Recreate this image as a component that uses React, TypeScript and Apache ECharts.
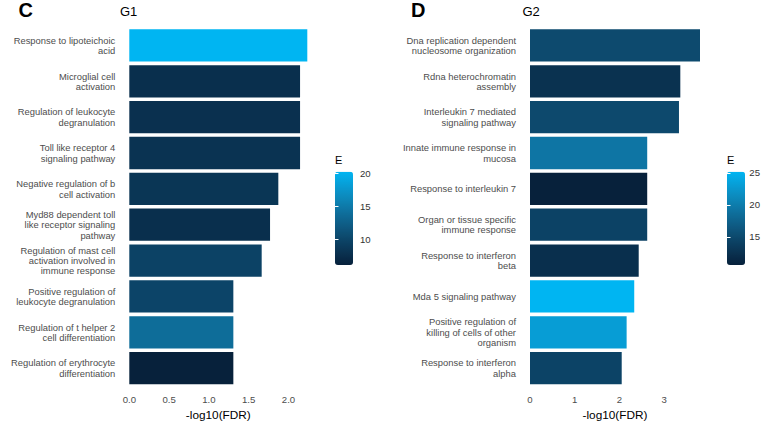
import React, { useEffect, useRef } from 'react';
import * as echarts from 'echarts';

// ---------- data ----------
const g1Terms = [
  'Response to lipoteichoic\nacid',
  'Microglial cell\nactivation',
  'Regulation of leukocyte\ndegranulation',
  'Toll like receptor 4\nsignaling pathway',
  'Negative regulation of b\ncell activation',
  'Myd88 dependent toll\nlike receptor signaling\npathway',
  'Regulation of mast cell\nactivation involved in\nimmune response',
  'Positive regulation of\nleukocyte degranulation',
  'Regulation of t helper 2\ncell differentiation',
  'Regulation of erythrocyte\ndifferentiation',
];
const g1Fdr = [2.236, 2.145, 2.145, 2.145, 1.872, 1.768, 1.663, 1.307, 1.307, 1.307];
const g1E = [20.2, 7.65, 7.8, 8.1, 8.35, 7.65, 9.7, 9.9, 13.8, 6.1];

const g2Terms = [
  'Dna replication dependent\nnucleosome organization',
  'Rdna heterochromatin\nassembly',
  'Interleukin 7 mediated\nsignaling pathway',
  'Innate immune response in\nmucosa',
  'Response to interleukin 7',
  'Organ or tissue specific\nimmune response',
  'Response to interferon\nbeta',
  'Mda 5 signaling pathway',
  'Positive regulation of\nkilling of cells of other\norganism',
  'Response to interferon\nalpha',
];
const g2Fdr = [3.8, 3.36, 3.33, 2.62, 2.62, 2.62, 2.43, 2.33, 2.16, 2.05];
const g2E = [15.1, 12.5, 15.0, 19.4, 10.6, 14.3, 12.2, 25.2, 23.1, 14.4];

const g1ERange = [6.1, 20.2];
const g2ERange = [10.6, 25.2];
const g1ETicks = [10, 15, 20];
const g2ETicks = [15, 20, 25];

const lowColor = '#07213B';
const highColor = '#00B5F2';

// ---------- colour helpers (Lab interpolation like ggplot) ----------
function hexToRgb(h: string) {
  const n = parseInt(h.slice(1), 16);
  return [(n >> 16) & 255, (n >> 8) & 255, n & 255];
}
function toLin(c: number) {
  c /= 255;
  return c <= 0.04045 ? c / 12.92 : Math.pow((c + 0.055) / 1.055, 2.4);
}
function fromLin(c: number) {
  const v = c <= 0.0031308 ? 12.92 * c : 1.055 * Math.pow(c, 1 / 2.4) - 0.055;
  return Math.round(Math.min(1, Math.max(0, v)) * 255);
}
function rgbToLab(rgb: number[]) {
  const R = toLin(rgb[0]), G = toLin(rgb[1]), B = toLin(rgb[2]);
  const X = (0.4124 * R + 0.3576 * G + 0.1805 * B) / 0.95047;
  const Y = 0.2126 * R + 0.7152 * G + 0.0722 * B;
  const Z = (0.0193 * R + 0.1192 * G + 0.9505 * B) / 1.08883;
  const f = (t: number) => (t > 0.008856 ? Math.cbrt(t) : 7.787 * t + 16 / 116);
  const fx = f(X), fy = f(Y), fz = f(Z);
  return [116 * fy - 16, 500 * (fx - fy), 200 * (fy - fz)];
}
function labToHex(lab: number[]) {
  const fy = (lab[0] + 16) / 116, fx = fy + lab[1] / 500, fz = fy - lab[2] / 200;
  const inv = (t: number) => (t * t * t > 0.008856 ? t * t * t : (t - 16 / 116) / 7.787);
  const X = inv(fx) * 0.95047, Y = inv(fy), Z = inv(fz) * 1.08883;
  const r = fromLin(3.2406 * X - 1.5372 * Y - 0.4986 * Z);
  const g = fromLin(-0.9689 * X + 1.8758 * Y + 0.0415 * Z);
  const b = fromLin(0.0557 * X - 0.204 * Y + 1.057 * Z);
  return '#' + [r, g, b].map((v) => v.toString(16).padStart(2, '0')).join('');
}
function gradientStops(lo: string, hi: string, n: number) {
  const a = rgbToLab(hexToRgb(lo)), b = rgbToLab(hexToRgb(hi));
  const out: string[] = [];
  for (let i = 0; i < n; i++) {
    const t = i / (n - 1);
    out.push(labToHex([a[0] + (b[0] - a[0]) * t, a[1] + (b[1] - a[1]) * t, a[2] + (b[2] - a[2]) * t]));
  }
  return out;
}

const FONT = '"Liberation Sans", Arial, Helvetica, sans-serif';
const LABEL_GRAY = '#4d4d4d';

export default function App() {
  const ref = useRef<HTMLDivElement>(null);
  useEffect(() => {
    if (!ref.current) return;
    const chart = echarts.init(ref.current, undefined, { renderer: 'svg' });
    const stops = gradientStops(lowColor, highColor, 16);

    const catAxis = (gridIndex: number, data: string[]) => ({
      gridIndex,
      type: 'category',
      data,
      inverse: true,
      axisLine: { show: false },
      axisTick: { show: false },
      splitLine: { show: false },
      axisLabel: {
        interval: 0,
        fontSize: 9.4,
        lineHeight: 10.4,
        color: LABEL_GRAY,
        margin: 14,
        fontFamily: FONT,
      },
    });
    const valAxis = (gridIndex: number, interval: number, fmt: (v: number) => string) => ({
      gridIndex,
      type: 'value',
      min: 0,
      max: (v: any) => v.max,
      interval,
      axisLine: { show: false },
      axisTick: { show: false },
      splitLine: { show: false },
      axisLabel: {
        showMaxLabel: false,
        formatter: fmt,
        fontSize: 9.6,
        color: LABEL_GRAY,
        margin: 8,
        fontFamily: FONT,
      },
      name: '-log10(FDR)',
      nameLocation: 'middle',
      nameGap: 20,
      nameTextStyle: { fontSize: 11.8, color: '#000', fontFamily: FONT },
    });
    const barAxisRight = (gridIndex: number, range: number[], ticks: number[]) => ({
      gridIndex,
      type: 'value',
      min: range[0],
      max: range[1],
      position: 'right',
      z: 10,
      axisLine: { show: false },
      splitLine: { show: false },
      axisTick: { show: true, inside: true, length: 3.5, customValues: ticks, lineStyle: { color: '#ffffff', width: 1 } },
      axisLabel: { customValues: ticks, fontSize: 9.6, color: '#333', margin: 7, fontFamily: FONT },
    });
    const barAxisLeft = (gridIndex: number, range: number[], ticks: number[]) => ({
      gridIndex,
      type: 'value',
      min: range[0],
      max: range[1],
      position: 'left',
      z: 10,
      axisLine: { show: false },
      splitLine: { show: false },
      axisTick: { show: true, inside: true, length: 3.5, customValues: ticks, lineStyle: { color: '#ffffff', width: 1 } },
      axisLabel: { show: false },
    });
    const hiddenX = (gridIndex: number) => ({ gridIndex, type: 'value', show: false, min: 0, max: 1 });

    const vm = (seriesIndex: number, range: number[], left: number) => ({
      type: 'continuous',
      seriesIndex,
      dimension: 2,
      min: range[0],
      max: range[1],
      inRange: { color: stops },
      left,
      top: 171.7,
      itemWidth: 18,
      itemHeight: 93.3,
      padding: 0,
      calculable: false,
      hoverLink: false,
      z: 4,
    });

    const txt = (text: string, x: number, y: number, size: number, bold = false) => ({
      type: 'text',
      x,
      y,
      style: {
        text,
        fill: '#000',
        font: `${bold ? 'bold ' : ''}${size}px ${FONT}`,
        verticalAlign: 'middle',
        align: 'left',
      },
    });

    chart.setOption({
      animation: false,
      backgroundColor: '#ffffff',
      grid: [
        { left: 129.3, top: 27.5, width: 178, height: 364 },
        { left: 530, top: 27.5, width: 170, height: 364 },
        { left: 335, top: 171.7, width: 18, height: 93.3 },
        { left: 727, top: 171.7, width: 18, height: 93.3 },
      ],
      xAxis: [
        valAxis(0, 0.5, (v: number) => v.toFixed(1)),
        valAxis(1, 1, (v: number) => String(v)),
        hiddenX(2),
        hiddenX(3),
      ],
      yAxis: [
        catAxis(0, g1Terms),
        catAxis(1, g2Terms),
        barAxisRight(2, g1ERange, g1ETicks),
        barAxisLeft(2, g1ERange, g1ETicks),
        barAxisRight(3, g2ERange, g2ETicks),
        barAxisLeft(3, g2ERange, g2ETicks),
      ],
      visualMap: [vm(0, g1ERange, 335), vm(1, g2ERange, 727)],
      series: [
        {
          type: 'bar',
          xAxisIndex: 0,
          yAxisIndex: 0,
          barWidth: '90%',
          encode: { x: 0, y: 1 },
          data: g1Terms.map((_, i) => [g1Fdr[i], i, g1E[i]]),
        },
        {
          type: 'bar',
          xAxisIndex: 1,
          yAxisIndex: 1,
          barWidth: '90%',
          encode: { x: 0, y: 1 },
          data: g2Terms.map((_, i) => [g2Fdr[i], i, g2E[i]]),
        },
      ],
      graphic: [
        txt('C', 18.5, 9.8, 20, true),
        txt('G1', 120, 11.5, 13),
        txt('D', 411, 9.8, 20, true),
        txt('G2', 522.5, 11.5, 13),
        txt('E', 335, 160.2, 11),
        txt('E', 727, 160.2, 11),
      ],
    });
    return () => chart.dispose();
  }, []);
  return <div ref={ref} style={{ position: 'absolute', left: 0, top: 0, width: 763, height: 426 }} />;
}
